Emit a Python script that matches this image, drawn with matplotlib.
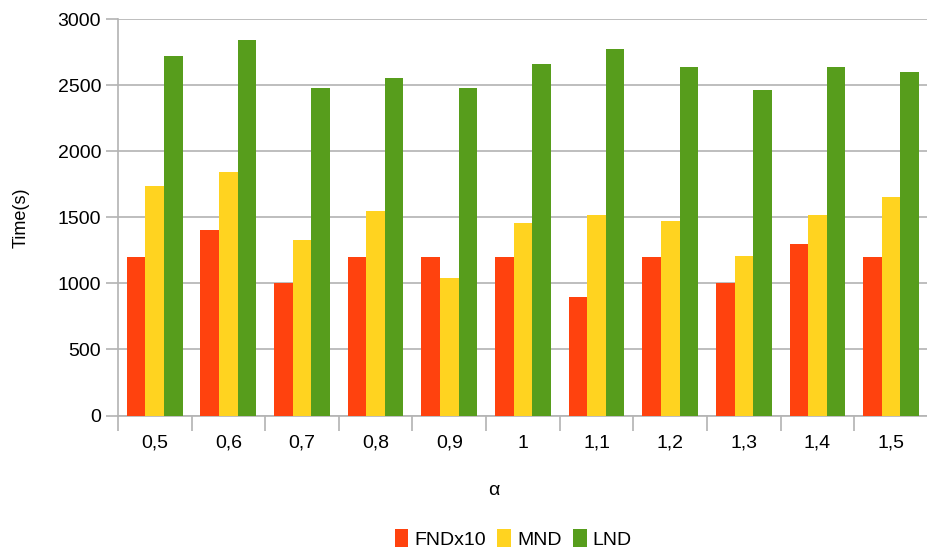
import numpy as np
import matplotlib
matplotlib.use("Agg")
import matplotlib.pyplot as plt
from matplotlib.ticker import FixedLocator

# data
alphas = ["0,5", "0,6", "0,7", "0,8", "0,9", "1", "1,1", "1,2", "1,3", "1,4", "1,5"]
fnd_x10 = [1200, 1400, 1000, 1200, 1200, 1200, 900, 1200, 1000, 1300, 1200]
mnd = [1740, 1840, 1330, 1550, 1040, 1460, 1520, 1475, 1210, 1520, 1655]
lnd = [2720, 2840, 2480, 2550, 2480, 2660, 2770, 2635, 2460, 2635, 2600]

series_names = ["FNDx10", "MND", "LND"]
colors = ["#FF420E", "#FFD320", "#579D1C"]

plt.rcParams['font.family'] = ['Liberation Sans', 'DejaVu Sans']

fig = plt.figure(figsize=(9.28, 5.54), dpi=100)
ax = fig.add_axes([0.127, 0.25, 0.873, 0.7157])

x = np.arange(len(alphas))
bw = 0.252
for i, (vals, name, c) in enumerate(zip([fnd_x10, mnd, lnd], series_names, colors)):
    ax.bar(x + (i - 1) * bw, vals, width=bw, color=c, label=name, zorder=3)

ax.set_xlim(-0.5, len(alphas) - 0.5)
ax.set_ylim(0, 3000)
ax.set_yticks(np.arange(0, 3001, 500))
ax.yaxis.grid(True, color="#b3b3b3", linewidth=1.2, zorder=0)

# category labels centered, tick marks on the boundaries
ax.set_xticks(x)
ax.set_xticklabels(alphas)
ax.tick_params(axis="x", which="major", length=0, pad=14, labelsize=14, colors="#000000")
ax.xaxis.set_minor_locator(FixedLocator(np.arange(-0.5, len(alphas), 1.0)))
ax.tick_params(axis="x", which="minor", length=11, width=1.2, color="#b3b3b3")
ax.tick_params(axis="y", length=9, width=1.2, color="#b3b3b3", labelsize=14, pad=3)

for s in ["top", "right"]:
    ax.spines[s].set_visible(False)
for s in ["left", "bottom"]:
    ax.spines[s].set_color("#b3b3b3")
    ax.spines[s].set_linewidth(1.2)

ax.set_ylabel("Time(s)", fontsize=13, labelpad=20)
fig.text(0.532, 0.115, "α", fontsize=14, ha="center", va="center")

fig.legend(loc="center", bbox_to_anchor=(0.553, 0.027), ncol=3, frameon=False,
           fontsize=14, handlelength=0.7, handleheight=1.0, handletextpad=0.3,
           columnspacing=0.6)

fig.savefig("out.png", dpi=100)
